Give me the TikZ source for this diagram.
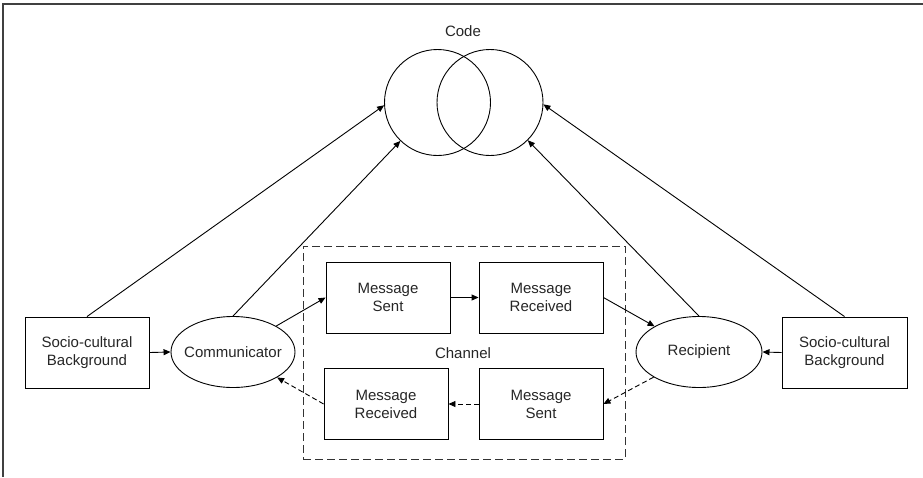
\documentclass[tikz,border=0pt]{standalone}
\usepackage{fontspec}
\setmainfont{Liberation Sans}
\usetikzlibrary{shapes.geometric,arrows.meta}
\begin{document}
\begin{tikzpicture}[x=1pt,y=-1pt,
  every node/.style={font=\fontsize{15}{18}\selectfont, text=black!85, align=center, inner sep=0pt},
  boxnode/.style={draw, line width=0.9pt, minimum width=124pt, minimum height=71pt},
  ellnode/.style={draw, ellipse, line width=0.9pt, inner xsep=-12pt, inner ysep=-4pt, minimum width=124pt, minimum height=71pt},
  circnode/.style={draw, circle, line width=0.9pt, minimum size=106pt},
  arr/.style={line width=0.9pt, -{Triangle[length=7pt,width=6pt]}},
  darr/.style={arr, dash pattern=on 5pt off 3pt},
]
\useasboundingbox (0,0) rectangle (923,477);
\draw[line width=1.2pt, black!75] (923,4) -- (3,4) -- (3,477);

\node (code) at (463,31) {Code};
\node[circnode] (c1) at (437.5,102.5) {};
\node[circnode] (c2) at (490,102.5) {};

\node[draw, line width=0.9pt, black!80, dash pattern=on 8pt off 4pt, minimum width=322pt, minimum height=213pt] (chan) at (464,352.5) {};
\node (chanlabel) at (463,353) {Channel};

\node[boxnode] (scl) at (87,352.5) {Socio-cultural\\Background};
\node[ellnode] (comm) at (233,352) {Communicator};
\node[boxnode] (ms1) at (388,297.5) {Message\\Sent};
\node[boxnode] (mr1) at (541,297.5) {Message\\Received};
\node[boxnode] (mr2) at (386,404) {Message\\Received};
\node[boxnode] (ms2) at (541,404) {Message\\Sent};
\node[ellnode, minimum width=126pt] (rec) at (699,352) {Recipient};
\node[boxnode, minimum width=125pt] (scr) at (844.5,352.5) {Socio-cultural\\Background};

\draw[arr] (scl.north) -- (c1.183);
\draw[arr] (comm.north) -- (c1.226);
\draw[arr] (rec.north) -- (c2.315);
\draw[arr] (scr.north) -- (c2.358);

\draw[arr] (scl.east) -- (comm.west);
\draw[arr] (scr.west) -- (rec.east);
\draw[arr] (comm.31) -- (ms1.west);
\draw[arr] (ms1.east) -- (mr1.west);
\draw[arr] (mr1.east) -- (rec.150);
\draw[darr] (rec.209) -- (ms2.east);
\draw[darr] (ms2.west) -- (mr2.east);
\draw[darr] (mr2.west) -- (comm.330);
\end{tikzpicture}
\end{document}
